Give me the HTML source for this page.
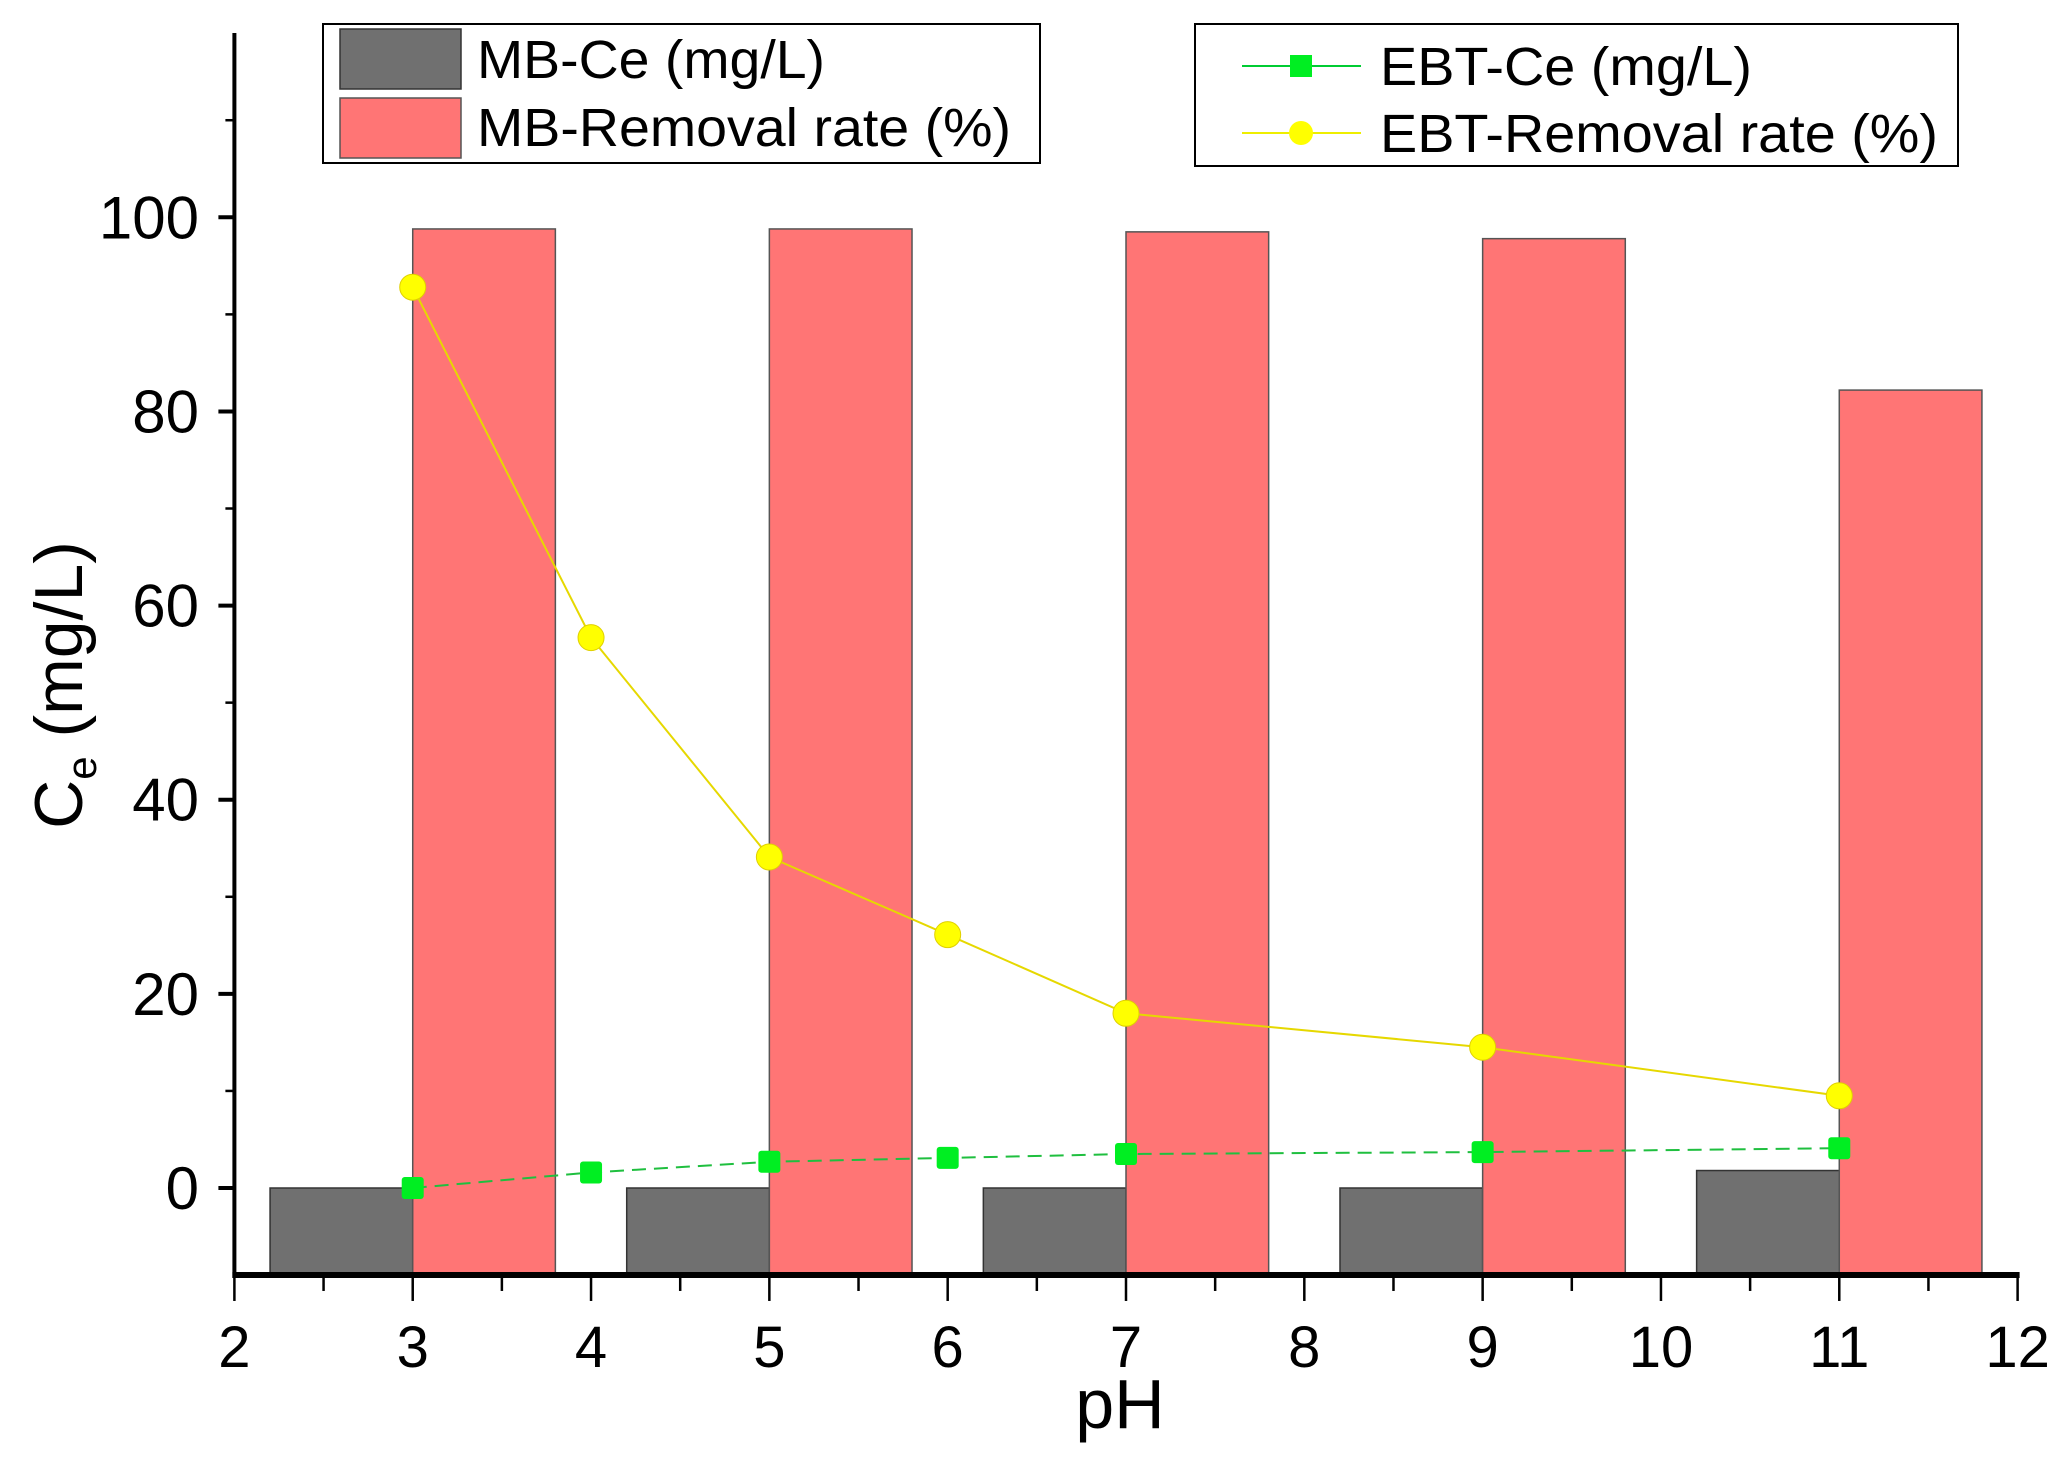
<!DOCTYPE html>
<html><head><meta charset="utf-8"><style>
html,body{margin:0;padding:0;background:#fff;}
svg{display:block;font-family:"Liberation Sans",sans-serif;}
</style></head><body>
<svg id="chart" width="2065" height="1469" viewBox="0 0 2065 1469" xmlns="http://www.w3.org/2000/svg">
<g id="bars"></g>
<g id="lines"></g>
<g id="axes"></g>
<g>
<rect x="323" y="24" width="717" height="139" fill="#fff" stroke="#000" stroke-width="2"/>
<rect x="340" y="29" width="121" height="60" fill="#707070" stroke="#333" stroke-width="1.5"/>
<text x="477" y="78" font-size="54" textLength="348" lengthAdjust="spacingAndGlyphs">MB-Ce (mg/L)</text>
<rect x="340" y="98" width="121" height="60" fill="#ff7575" stroke="#555" stroke-width="1.5"/>
<text x="477" y="146" font-size="54" textLength="534" lengthAdjust="spacingAndGlyphs">MB-Removal rate (%)</text>
</g>
<g>
<rect x="1195" y="24" width="763" height="142" fill="#fff" stroke="#000" stroke-width="2"/>
<line x1="1242" y1="66" x2="1361" y2="66" stroke="#00cc33" stroke-width="2"/>
<rect x="1290" y="55" width="22" height="22" fill="#00ee22"/>
<text x="1380" y="85" font-size="54" textLength="372" lengthAdjust="spacingAndGlyphs">EBT-Ce (mg/L)</text>
<line x1="1242" y1="133" x2="1361" y2="133" stroke="#eeee00" stroke-width="2"/>
<circle cx="1301" cy="133" r="12" fill="#ffff00"/>
<text x="1380" y="152" font-size="54" textLength="558" lengthAdjust="spacingAndGlyphs">EBT-Removal rate (%)</text>
</g>
<text x="1120" y="1428" font-size="70" text-anchor="middle">pH</text>
<text transform="translate(82,685) rotate(-90)" font-size="68" text-anchor="middle">C<tspan font-size="42" dy="14">e</tspan><tspan dy="-14"> (mg/L)</tspan></text>
</svg>
<script>
const barPH = [3,5,7,9,11];
const mbCe = [0,0,0,0,1.8];
const mbRemoval = [98.8,98.8,98.5,97.8,82.2];
const ebtPH = [3,4,5,6,7,9,11];
const ebtCe = [0,1.6,2.7,3.1,3.5,3.7,4.1];
const ebtRemoval = [92.8,56.7,34.1,26.1,18.0,14.5,9.5];
const xTicks = [2,3,4,5,6,7,8,9,10,11,12];
const yTicks = [0,20,40,60,80,100];

const NS='http://www.w3.org/2000/svg';
const X0=234.4, X1=2017.6, XMIN=2, XMAX=12;
const Y0=1188, Y100=217.3;
const YMIN=-8.96;
function sx(v){return X0+(v-XMIN)*(X1-X0)/(XMAX-XMIN);}
function sy(v){return Y0+(v)*(Y100-Y0)/100;}
function mk(tag,attrs,parent){const e=document.createElementNS(NS,tag);for(const k in attrs)e.setAttribute(k,attrs[k]);parent.appendChild(e);return e;}
const bars=document.getElementById('bars'), lines=document.getElementById('lines'), axes=document.getElementById('axes');
const yb=sy(YMIN), bw=0.8;
barPH.forEach((p,i)=>{
  const g=mk('rect',{x:sx(p-bw),y:sy(mbCe[i]),width:sx(p)-sx(p-bw),height:yb-sy(mbCe[i]),fill:'#707070',stroke:'#333','stroke-width':1.5},bars);
  
  
  const r=mk('rect',{x:sx(p),y:sy(mbRemoval[i]),width:sx(p+bw)-sx(p),height:yb-sy(mbRemoval[i]),fill:'#ff7575',stroke:'#555','stroke-width':1.5},bars);
  
  
});
function series(vals,color,dash,name){
  const pts=ebtPH.map((p,i)=>sx(p)+','+sy(vals[i])).join(' ');
  const l=mk('polyline',{points:pts,fill:'none',stroke:color,'stroke-width':2,'stroke-dasharray':dash},lines);
  
  
}
series(ebtRemoval,'#e6d800','none','ebt-removal');
series(ebtCe,'#1fbf3f','14 8','ebt-ce');
ebtPH.forEach((p,i)=>{
  const c=mk('circle',{cx:sx(p),cy:sy(ebtRemoval[i]),r:13,fill:'#ffff00',stroke:'#e0d000','stroke-width':1},lines);
  
  
  const s=mk('rect',{x:sx(p)-11,y:sy(ebtCe[i])-11,width:22,height:22,rx:3,fill:'#00ee22'},lines);
  
  
});
const yTop=33;
mk('line',{x1:X0,y1:yTop,x2:X0,y2:yb+3,stroke:'#000','stroke-width':4},axes);
mk('line',{x1:X0-2,y1:yb,x2:X1+2,y2:yb,stroke:'#000','stroke-width':6},axes);
xTicks.forEach(t=>{
  mk('line',{x1:sx(t),y1:yb,x2:sx(t),y2:yb+26,stroke:'#000','stroke-width':2.5},axes);
  if(t<XMAX) mk('line',{x1:sx(t+0.5),y1:yb,x2:sx(t+0.5),y2:yb+16,stroke:'#000','stroke-width':2.5},axes);
  const tx=mk('text',{x:sx(t),y:1367,'font-size':58,'text-anchor':'middle'},axes);
  tx.textContent=t;
  
  
});
for(let v=0;v<=115;v+=10){
  const major=v%20===0;
  mk('line',{x1:X0,y1:sy(v),x2:X0-(major?16:9),y2:sy(v),stroke:'#000','stroke-width':major?4:2.5},axes);
}
yTicks.forEach(t=>{
  const tx=mk('text',{x:199,y:sy(t)+21,'font-size':60,'text-anchor':'end'},axes);
  tx.textContent=t;
  
  
});
</script>
</body></html>
